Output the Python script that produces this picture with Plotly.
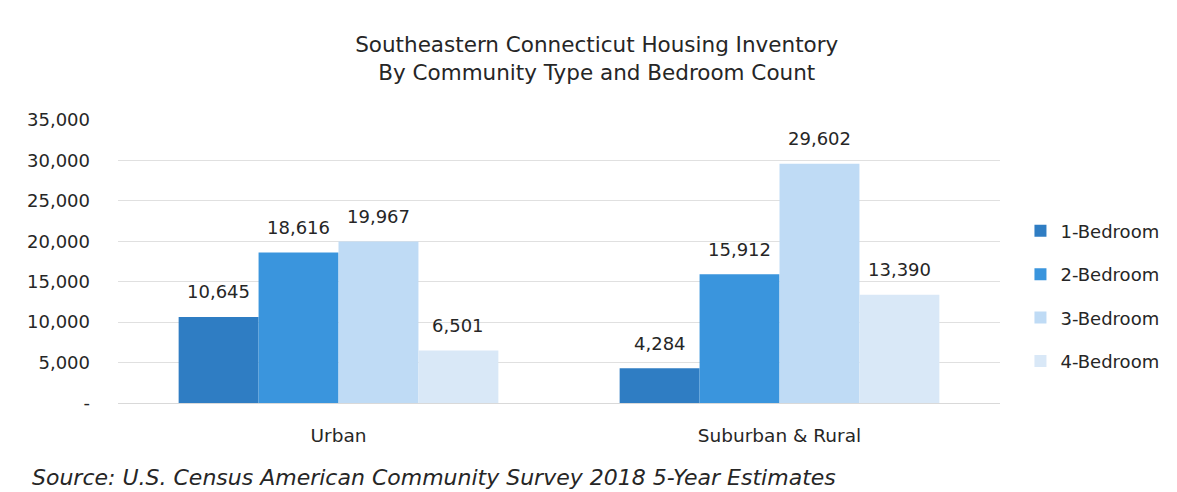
import plotly.graph_objects as go

categories = ["Urban", "Suburban & Rural"]
series_names = ["1-Bedroom", "2-Bedroom", "3-Bedroom", "4-Bedroom"]
bed1 = [10645, 4284]
bed2 = [18616, 15912]
bed3 = [19967, 29602]
bed4 = [6501, 13390]
tick_vals = [0, 5000, 10000, 15000, 20000, 25000, 30000, 35000]
tick_text = ["-", "5,000", "10,000", "15,000", "20,000", "25,000", "30,000", "35,000"]

colors = ["#2F7DC3", "#3A95DD", "#BFDBF5", "#D9E8F7"]
FONT = "DejaVu Sans"
TXT = "#262626"

W, H = 1177, 492
ML, MR, MT, MB = 118, 177, 120, 89
BARGAP = 0.275

fig = go.Figure()
all_series = [bed1, bed2, bed3, bed4]
for i, (name, vals) in enumerate(zip(series_names, all_series)):
    fig.add_trace(go.Bar(
        x=categories, y=vals, name=name,
        marker=dict(color=colors[i], line=dict(width=0)),
        legendgroup=name,
    ))

# data labels placed above each bar via annotations (offset by bar width)
plot_w = W - ML - MR
cat_w = plot_w / len(categories)
bar_w = cat_w * (1 - BARGAP) / len(series_names)
for i, vals in enumerate(all_series):
    for cat, v in zip(categories, vals):
        fig.add_annotation(x=cat, y=v, text=f"{v:,}", showarrow=False,
                           xshift=(i - (len(series_names) - 1) / 2) * bar_w,
                           yshift=25, yanchor="middle",
                           font=dict(family=FONT, size=18, color=TXT))

fig.update_layout(
    width=W, height=H,
    margin=dict(l=ML, r=MR, t=MT, b=MB, autoexpand=False),
    paper_bgcolor="white", plot_bgcolor="white",
    barmode="group", bargap=BARGAP, bargroupgap=0,
    font=dict(family=FONT, size=18, color=TXT),
    title=dict(text="Southeastern Connecticut Housing Inventory<br>By Community Type and Bedroom Count",
               x=0.507, xanchor="center", y=0.894, yanchor="middle",
               font=dict(family=FONT, size=21.5, color=TXT)),
    legend=dict(xref="container", yref="container", x=0.867, y=0.568,
                xanchor="left", yanchor="top", itemwidth=30,
                font=dict(family=FONT, size=18, color=TXT),
                tracegroupgap=17, traceorder="grouped"),
    showlegend=True,
)
fig.update_yaxes(range=[0, 35000], tickvals=tick_vals, ticktext=tick_text,
                 showgrid=True, gridcolor="#E0E0E0", gridwidth=1,
                 zeroline=False, showline=False, ticks="", ticklabelstandoff=27,
                 tickfont=dict(family=FONT, size=18, color=TXT))
fig.update_xaxes(showline=True, linecolor="#D9D9D9", linewidth=1, ticks="outside",
                 ticklen=16, tickcolor="rgba(0,0,0,0)",
                 tickfont=dict(family=FONT, size=18.5, color=TXT))

fig.add_annotation(text="<i>Source: U.S. Census American Community Survey 2018 5-Year Estimates</i>",
                   xref="paper", yref="paper", x=-0.1, y=-0.265, xanchor="left", yanchor="middle",
                   showarrow=False, font=dict(family=FONT, size=22, color=TXT))

fig.write_html("out.html", config={"displayModeBar": False},
               post_script="document.body.style.margin='0';document.body.style.overflow='hidden';")
